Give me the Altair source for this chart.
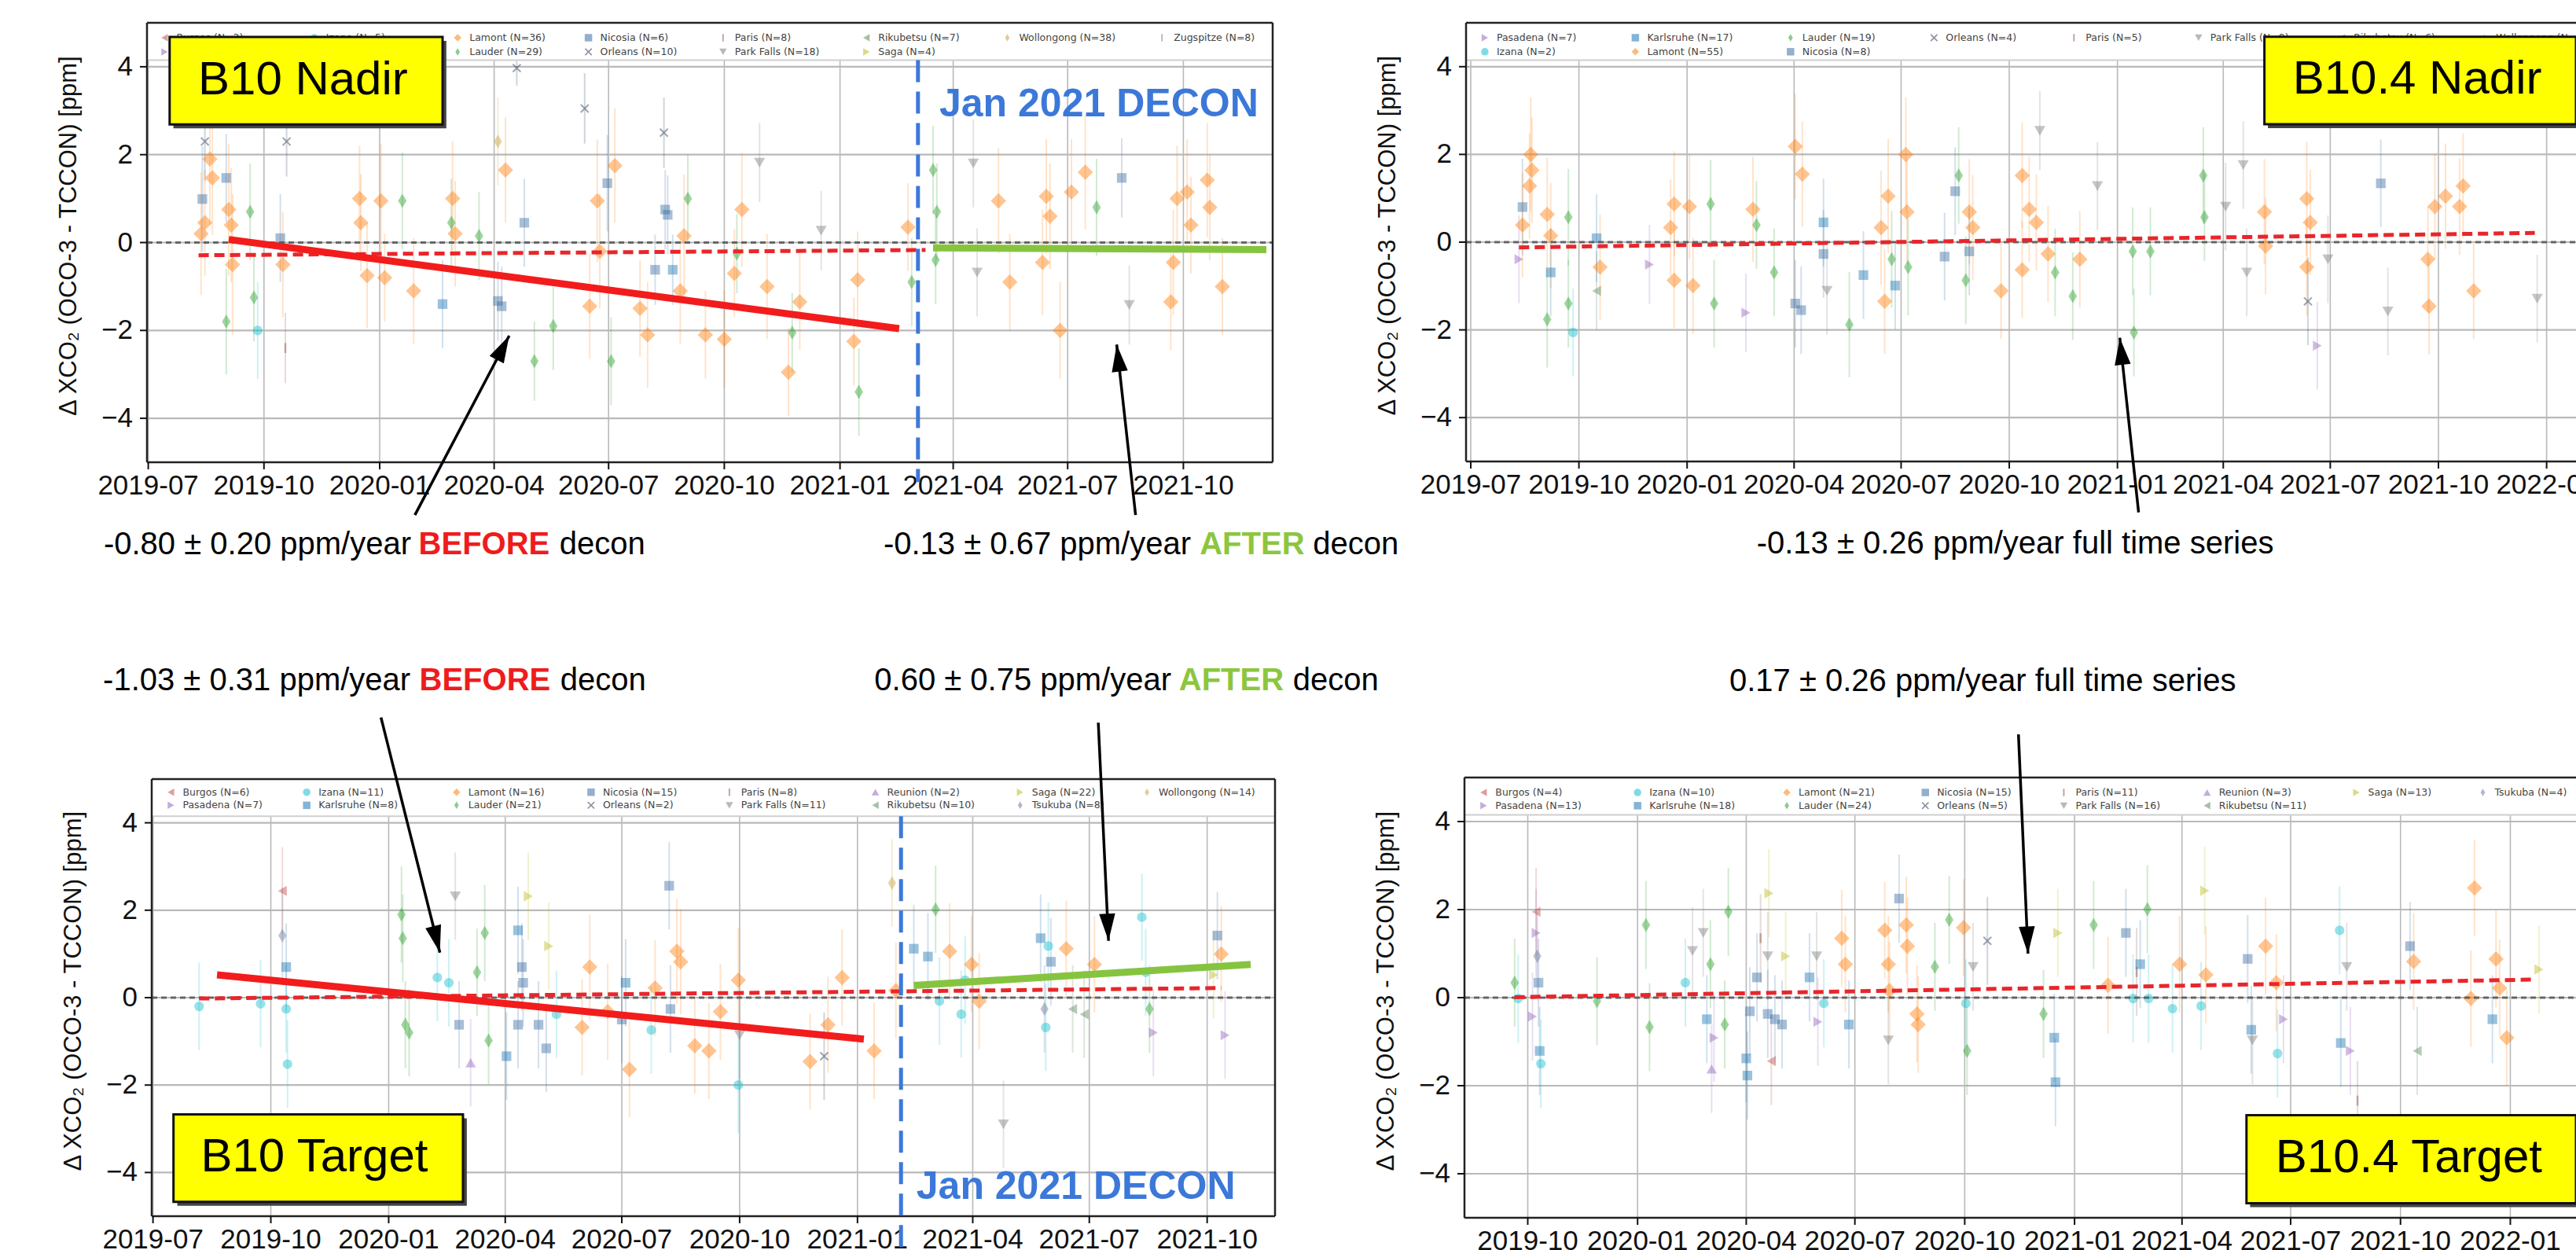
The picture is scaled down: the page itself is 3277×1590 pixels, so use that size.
import altair as alt
import pandas as pd

W, H = 3277, 1590
AX_FONT = "Liberation Sans"
LEG_FONT = "DejaVu Sans"
TXT_FONT = "Liberation Sans"
YTITLE = "\u0394 XCO\u2082 (OCO-3 - TCCON) [ppm]"

# ---------------- data ----------------
TICKS_A = ["2019-07-01", "2019-10-01", "2020-01-01", "2020-04-01", "2020-07-01",
           "2020-10-01", "2021-01-01", "2021-04-01", "2021-07-01", "2021-10-01"]
TICKS_B = TICKS_A + ["2022-01-01"]
TICKS_C = TICKS_A[1:] + ["2022-01-01"]
YTICKS = [-4, -2, 0, 2, 4]
YTICK_LABELS = ["\u22124", "\u22122", "0", "2", "4"]

# (date, delta XCO2, error, site)
P1_POINTS = [
    ("2019-08-15", 2.30, 0.9, "Orleans"), ("2019-08-13", 0.99, 1.2, "Nicosia"),
    ("2019-08-19", 1.90, 1.5, "Lamont"), ("2019-08-21", 1.47, 1.3, "Lamont"),
    ("2019-08-15", 0.45, 1.2, "Lamont"), ("2019-08-12", 0.20, 1.4, "Lamont"),
    ("2019-09-03", 0.75, 1.5, "Lamont"), ("2019-09-05", 0.40, 1.3, "Lamont"),
    ("2019-09-06", -0.50, 1.6, "Lamont"), ("2019-09-01", 1.47, 1.0, "Nicosia"),
    ("2019-09-01", -1.80, 1.2, "Lauder"), ("2019-09-20", 0.70, 1.1, "Lauder"),
    ("2019-09-23", -1.25, 1.0, "Lauder"), ("2019-09-26", -2.00, 1.1, "Izana"),
    ("2019-10-16", -0.50, 1.2, "Lamont"), ("2019-10-19", 2.30, 0.8, "Orleans"),
    ("2019-10-18", -2.40, 0.8, "Paris"), ("2019-10-14", 0.10, 1.0, "Nicosia"),
    ("2019-12-16", 1.00, 1.2, "Lamont"), ("2019-12-17", 0.45, 1.1, "Lamont"),
    ("2019-12-22", -0.75, 1.2, "Lamont"), ("2020-01-02", 0.95, 1.3, "Lamont"),
    ("2020-01-05", -0.80, 1.0, "Lamont"), ("2020-01-19", 0.95, 1.1, "Lauder"),
    ("2020-01-28", -1.10, 1.2, "Lamont"), ("2020-02-20", -1.40, 1.0, "Karlsruhe"),
    ("2020-02-28", 1.00, 1.3, "Lamont"), ("2020-03-01", 0.20, 1.2, "Lamont"),
    ("2020-02-27", 0.45, 1.0, "Lauder"), ("2020-03-20", 0.15, 1.0, "Lauder"),
    ("2020-04-04", 2.30, 1.0, "Wollongong"), ("2020-04-10", 1.65, 1.2, "Lamont"),
    ("2020-04-04", -1.33, 0.9, "Nicosia"), ("2020-04-07", -1.45, 0.9, "Nicosia"),
    ("2020-04-25", 0.45, 1.0, "Nicosia"), ("2020-04-19", 3.97, 0.4, "Orleans"),
    ("2020-05-18", -1.90, 1.0, "Lauder"), ("2020-05-03", -2.70, 0.9, "Lauder"),
    ("2020-06-12", 3.05, 0.8, "Orleans"), ("2020-06-16", -1.45, 1.2, "Lamont"),
    ("2020-06-22", 0.95, 1.4, "Lamont"), ("2020-06-24", -0.20, 1.3, "Lamont"),
    ("2020-06-30", 1.35, 1.1, "Nicosia"), ("2020-07-06", 1.75, 1.3, "Lamont"),
    ("2020-07-03", -2.70, 1.0, "Lauder"), ("2020-07-26", -1.50, 1.1, "Lamont"),
    ("2020-08-01", -2.10, 1.2, "Lamont"), ("2020-08-14", 2.50, 0.8, "Orleans"),
    ("2020-08-15", 0.75, 0.9, "Nicosia"), ("2020-08-17", 0.63, 0.9, "Nicosia"),
    ("2020-08-07", -0.62, 0.8, "Nicosia"), ("2020-08-21", -0.62, 0.8, "Karlsruhe"),
    ("2020-08-30", 0.15, 1.4, "Lamont"), ("2020-08-27", -1.10, 1.2, "Lamont"),
    ("2020-09-02", 1.00, 1.0, "Lauder"), ("2020-09-16", -2.10, 1.0, "Lamont"),
    ("2020-10-01", -2.20, 1.1, "Lamont"), ("2020-10-09", -0.70, 1.0, "Lamont"),
    ("2020-10-11", -0.25, 0.9, "Lauder"), ("2020-10-15", 0.75, 1.3, "Lamont"),
    ("2020-10-29", 1.82, 0.9, "Park Falls"), ("2020-11-04", -1.00, 1.2, "Lamont"),
    ("2020-11-21", -2.95, 1.0, "Lamont"), ("2020-11-24", -2.05, 0.9, "Lauder"),
    ("2020-11-30", -1.35, 1.1, "Lamont"), ("2020-12-17", 0.27, 0.9, "Park Falls"),
    ("2021-01-12", -2.25, 1.0, "Lamont"), ("2021-01-15", -0.85, 1.1, "Lamont"),
    ("2021-01-16", -3.40, 1.0, "Lauder"), ("2021-02-24", 0.35, 1.0, "Lamont"),
    ("2021-02-27", -0.90, 1.0, "Lauder"), ("2021-03-16", 1.65, 1.0, "Lauder"),
    ("2021-03-19", 0.70, 1.1, "Lauder"), ("2021-03-18", -0.40, 1.0, "Lauder"),
    ("2021-04-17", 1.80, 1.0, "Park Falls"), ("2021-04-20", -0.68, 1.0, "Park Falls"),
    ("2021-05-07", 0.95, 1.2, "Lamont"), ("2021-05-16", -0.90, 1.1, "Lamont"),
    ("2021-06-11", -0.45, 1.2, "Lamont"), ("2021-06-14", 1.05, 1.3, "Lamont"),
    ("2021-06-17", 0.60, 1.2, "Lamont"), ("2021-06-25", -2.00, 1.1, "Lamont"),
    ("2021-07-04", 1.15, 1.2, "Lamont"), ("2021-07-15", 1.60, 1.3, "Lamont"),
    ("2021-07-24", 0.80, 1.1, "Lauder"), ("2021-08-13", 1.47, 0.9, "Nicosia"),
    ("2021-08-19", -1.42, 0.9, "Park Falls"), ("2021-09-23", -0.45, 1.2, "Lamont"),
    ("2021-09-21", -1.35, 1.1, "Lamont"), ("2021-09-26", 1.00, 1.2, "Lamont"),
    ("2021-10-04", 1.15, 1.2, "Lamont"), ("2021-10-07", 0.40, 1.1, "Lamont"),
    ("2021-10-20", 1.42, 1.3, "Lamont"), ("2021-10-22", 0.80, 1.2, "Lamont"),
    ("2021-11-01", -1.00, 1.1, "Lamont"),
]

P2_POINTS = [
    ("2019-08-21", 2.00, 1.3, "Lamont"), ("2019-08-22", 1.64, 1.2, "Lamont"),
    ("2019-08-20", 1.28, 1.2, "Lamont"), ("2019-08-14", 0.80, 1.1, "Nicosia"),
    ("2019-08-14", 0.39, 1.2, "Lamont"), ("2019-08-11", -0.39, 1.0, "Pasadena"),
    ("2019-09-04", 0.63, 1.3, "Lamont"), ("2019-09-07", 0.15, 1.2, "Lamont"),
    ("2019-09-07", -0.69, 1.0, "Karlsruhe"), ("2019-09-22", 0.57, 1.1, "Lauder"),
    ("2019-09-22", -1.40, 1.0, "Lauder"), ("2019-09-04", -1.76, 1.1, "Lauder"),
    ("2019-09-26", -2.06, 1.0, "Izana"), ("2019-10-16", 0.09, 1.0, "Karlsruhe"),
    ("2019-10-19", -0.57, 1.2, "Lamont"), ("2019-10-16", -1.11, 0.9, "Rikubetsu"),
    ("2019-11-30", -0.51, 0.9, "Pasadena"), ("2019-12-21", 0.87, 1.2, "Lamont"),
    ("2020-01-03", 0.81, 1.2, "Lamont"), ("2019-12-18", 0.33, 1.1, "Lamont"),
    ("2019-12-21", -0.87, 1.1, "Lamont"), ("2020-01-06", -0.99, 1.1, "Lamont"),
    ("2020-01-21", 0.87, 1.0, "Lauder"), ("2020-01-24", -1.40, 1.0, "Lauder"),
    ("2020-02-20", -1.61, 0.9, "Pasadena"), ("2020-02-26", 0.75, 1.2, "Lamont"),
    ("2020-02-29", 0.39, 1.0, "Lauder"), ("2020-03-15", -0.69, 1.0, "Lauder"),
    ("2020-04-02", 2.18, 1.2, "Lamont"), ("2020-04-08", 1.55, 1.2, "Lamont"),
    ("2020-04-02", -1.40, 1.0, "Nicosia"), ("2020-04-07", -1.55, 1.0, "Nicosia"),
    ("2020-04-26", 0.45, 1.0, "Karlsruhe"), ("2020-04-26", -0.27, 1.0, "Nicosia"),
    ("2020-04-29", -1.11, 1.0, "Park Falls"), ("2020-05-18", -1.88, 1.2, "Lauder"),
    ("2020-05-30", -0.75, 1.0, "Karlsruhe"), ("2020-06-14", 0.33, 1.3, "Lamont"),
    ("2020-06-17", -1.35, 1.2, "Lamont"), ("2020-06-20", 1.05, 1.3, "Lamont"),
    ("2020-06-23", -0.39, 1.1, "Lauder"), ("2020-06-26", -0.99, 1.0, "Karlsruhe"),
    ("2020-07-05", 2.00, 1.3, "Lamont"), ("2020-07-06", 0.69, 1.2, "Lamont"),
    ("2020-07-07", -0.57, 1.1, "Lauder"), ("2020-08-07", -0.33, 1.0, "Nicosia"),
    ("2020-08-16", 1.16, 1.0, "Nicosia"), ("2020-08-19", 1.52, 1.1, "Lauder"),
    ("2020-08-25", -0.87, 1.0, "Lauder"), ("2020-08-28", 0.69, 1.2, "Lamont"),
    ("2020-08-28", -0.21, 1.0, "Nicosia"), ("2020-08-31", 0.33, 1.2, "Lamont"),
    ("2020-09-24", -1.11, 1.1, "Lamont"), ("2020-10-12", 1.52, 1.2, "Lamont"),
    ("2020-10-12", -0.63, 1.1, "Lamont"), ("2020-10-18", 0.75, 1.2, "Lamont"),
    ("2020-10-24", 0.45, 1.1, "Lamont"), ("2020-10-27", 2.54, 0.9, "Park Falls"),
    ("2020-11-03", -0.27, 1.1, "Lamont"), ("2020-11-09", -0.69, 1.0, "Lauder"),
    ("2020-11-24", -1.23, 1.0, "Lauder"), ("2020-11-30", -0.39, 1.1, "Lamont"),
    ("2020-12-15", 1.28, 1.0, "Park Falls"), ("2021-01-14", -0.21, 1.0, "Lauder"),
    ("2021-01-15", -2.06, 1.0, "Lauder"), ("2021-01-29", -0.21, 1.0, "Lauder"),
    ("2021-03-15", 1.52, 1.1, "Lauder"), ("2021-03-16", 0.57, 1.0, "Lauder"),
    ("2021-04-03", 0.81, 1.0, "Park Falls"), ("2021-04-18", 1.76, 1.0, "Park Falls"),
    ("2021-04-21", -0.69, 1.0, "Park Falls"), ("2021-05-06", 0.69, 1.2, "Lamont"),
    ("2021-05-07", -0.09, 1.1, "Lamont"), ("2021-06-11", 0.99, 1.3, "Lamont"),
    ("2021-06-14", 0.45, 1.2, "Lamont"), ("2021-06-11", -0.57, 1.1, "Lamont"),
    ("2021-06-12", -1.35, 1.0, "Orleans"), ("2021-06-20", -2.36, 1.0, "Pasadena"),
    ("2021-06-29", -0.39, 1.0, "Park Falls"), ("2021-08-13", 1.34, 1.0, "Nicosia"),
    ("2021-08-19", -1.58, 1.0, "Park Falls"), ("2021-09-22", -0.39, 1.2, "Lamont"),
    ("2021-09-23", -1.46, 1.1, "Lamont"), ("2021-09-28", 0.81, 1.2, "Lamont"),
    ("2021-10-07", 1.05, 1.2, "Lamont"), ("2021-10-22", 1.28, 1.2, "Lamont"),
    ("2021-10-19", 0.81, 1.1, "Lamont"), ("2021-10-31", -1.11, 1.1, "Lamont"),
    ("2021-12-24", -1.29, 1.0, "Park Falls"),
]

P3_POINTS = [
    ("2019-08-06", -0.20, 1.0, "Izana"), ("2019-09-23", -0.14, 1.0, "Izana"),
    ("2019-10-10", 2.44, 1.0, "Burgos"), ("2019-10-10", 1.42, 1.1, "Tsukuba"),
    ("2019-10-13", 0.70, 1.0, "Karlsruhe"), ("2019-10-13", -0.26, 1.0, "Izana"),
    ("2019-10-14", -1.52, 1.0, "Izana"), ("2020-01-11", 1.90, 1.1, "Lauder"),
    ("2020-01-12", 1.36, 1.0, "Lauder"), ("2020-01-14", -0.62, 1.0, "Lauder"),
    ("2020-01-17", -0.80, 1.0, "Lauder"), ("2020-02-08", 0.46, 1.0, "Izana"),
    ("2020-02-22", 2.32, 1.0, "Park Falls"), ("2020-02-17", 0.34, 1.0, "Izana"),
    ("2020-02-25", -0.62, 1.0, "Nicosia"), ("2020-03-05", -1.49, 1.0, "Reunion"),
    ("2020-03-10", 0.58, 1.0, "Lauder"), ("2020-03-16", 1.48, 1.1, "Lauder"),
    ("2020-03-19", -0.98, 1.0, "Lauder"), ("2020-04-02", -1.34, 1.0, "Karlsruhe"),
    ("2020-04-11", 1.54, 1.0, "Karlsruhe"), ("2020-04-14", 0.70, 1.0, "Nicosia"),
    ("2020-04-15", 0.34, 1.0, "Nicosia"), ("2020-04-11", -0.62, 1.0, "Nicosia"),
    ("2020-04-19", 2.32, 1.0, "Saga"), ("2020-04-27", -0.62, 1.0, "Nicosia"),
    ("2020-05-03", -1.16, 1.0, "Nicosia"), ("2020-05-05", 1.18, 1.0, "Saga"),
    ("2020-05-11", -0.38, 1.0, "Izana"), ("2020-05-31", -0.68, 1.1, "Lamont"),
    ("2020-06-06", 0.70, 1.2, "Lamont"), ("2020-06-20", -0.32, 1.1, "Lamont"),
    ("2020-07-01", -0.50, 1.0, "Nicosia"), ("2020-07-07", -1.64, 1.1, "Lamont"),
    ("2020-07-04", 0.34, 1.0, "Karlsruhe"), ("2020-07-24", -0.74, 1.0, "Izana"),
    ("2020-07-27", 0.22, 1.1, "Lamont"), ("2020-08-07", 2.56, 1.0, "Nicosia"),
    ("2020-08-13", 1.06, 1.2, "Lamont"), ("2020-08-16", 0.82, 1.2, "Lamont"),
    ("2020-08-08", -0.26, 1.0, "Nicosia"), ("2020-08-27", -1.10, 1.1, "Lamont"),
    ("2020-09-07", -1.22, 1.1, "Lamont"), ("2020-09-16", -0.32, 1.1, "Lamont"),
    ("2020-09-30", 0.40, 1.2, "Lamont"), ("2020-09-30", -2.00, 1.1, "Izana"),
    ("2020-10-01", -0.86, 1.0, "Park Falls"), ("2020-11-25", -1.46, 1.1, "Lamont"),
    ("2020-12-06", -1.34, 1.0, "Orleans"), ("2020-12-09", -0.62, 1.1, "Lamont"),
    ("2020-12-20", 0.46, 1.1, "Lamont"), ("2021-01-14", -1.22, 1.1, "Lamont"),
    ("2021-01-28", 2.62, 1.0, "Wollongong"), ("2021-01-31", 0.16, 1.1, "Lamont"),
    ("2021-02-14", 1.12, 1.0, "Karlsruhe"), ("2021-02-25", 0.94, 1.0, "Karlsruhe"),
    ("2021-03-03", 2.02, 1.0, "Lauder"), ("2021-03-06", -0.08, 1.0, "Izana"),
    ("2021-03-14", 1.06, 1.1, "Lamont"), ("2021-03-23", -0.38, 1.0, "Izana"),
    ("2021-03-26", 0.40, 1.0, "Izana"), ("2021-03-31", 0.76, 1.1, "Lamont"),
    ("2021-04-06", -0.08, 1.1, "Lamont"), ("2021-04-25", -2.90, 1.0, "Park Falls"),
    ("2021-05-24", 1.36, 1.0, "Karlsruhe"), ("2021-05-30", 1.18, 1.0, "Izana"),
    ("2021-05-27", -0.26, 1.0, "Tsukuba"), ("2021-05-28", -0.68, 1.0, "Izana"),
    ("2021-06-01", 0.82, 1.0, "Nicosia"), ("2021-06-13", 1.12, 1.1, "Lamont"),
    ("2021-06-18", -0.26, 1.0, "Rikubetsu"), ("2021-06-27", -0.38, 1.0, "Rikubetsu"),
    ("2021-07-05", 0.76, 1.1, "Lamont"), ("2021-08-11", 1.84, 1.0, "Izana"),
    ("2021-08-14", 0.58, 1.0, "Izana"), ("2021-08-17", -0.26, 1.0, "Lauder"),
    ("2021-08-20", -0.80, 1.0, "Pasadena"), ("2021-10-06", 0.52, 1.0, "Saga"),
    ("2021-10-09", 1.42, 1.0, "Nicosia"), ("2021-10-12", 1.00, 1.1, "Lamont"),
    ("2021-10-15", -0.86, 1.0, "Pasadena"),
]

P4_POINTS = [
    ("2019-09-20", 0.34, 1.0, "Lauder"), ("2019-09-23", -0.02, 1.0, "Izana"),
    ("2019-10-05", -0.43, 1.0, "Pasadena"), ("2019-10-08", 1.95, 1.0, "Burgos"),
    ("2019-10-08", 1.47, 1.0, "Pasadena"), ("2019-10-09", 0.94, 1.0, "Tsukuba"),
    ("2019-10-10", 0.34, 1.0, "Nicosia"), ("2019-10-11", -1.21, 1.0, "Karlsruhe"),
    ("2019-10-12", -1.50, 1.0, "Izana"), ("2019-11-28", -0.08, 1.0, "Lauder"),
    ("2020-01-08", 1.65, 1.0, "Lauder"), ("2020-01-11", -0.67, 1.0, "Lauder"),
    ("2020-02-10", 0.34, 1.0, "Izana"), ("2020-02-16", 1.06, 1.0, "Park Falls"),
    ("2020-02-25", 1.47, 1.0, "Park Falls"), ("2020-02-28", -0.49, 1.0, "Karlsruhe"),
    ("2020-03-02", 0.76, 1.0, "Lauder"), ("2020-03-05", -0.91, 1.0, "Pasadena"),
    ("2020-03-03", -1.62, 1.0, "Reunion"), ("2020-03-17", 1.95, 1.0, "Lauder"),
    ("2020-03-14", -0.61, 1.0, "Lauder"), ("2020-04-01", -1.38, 1.0, "Karlsruhe"),
    ("2020-04-02", -1.77, 1.0, "Karlsruhe"), ("2020-04-04", -0.31, 1.0, "Nicosia"),
    ("2020-04-10", 0.46, 1.0, "Nicosia"), ("2020-04-13", 1.35, 1.0, "Paris"),
    ("2020-04-19", 0.94, 1.0, "Park Falls"), ("2020-04-19", -0.37, 1.0, "Nicosia"),
    ("2020-04-22", -1.44, 1.0, "Burgos"), ("2020-04-25", -0.49, 1.0, "Nicosia"),
    ("2020-05-01", -0.61, 1.0, "Nicosia"), ("2020-04-20", 2.37, 1.0, "Saga"),
    ("2020-05-04", 0.94, 1.0, "Saga"), ("2020-05-24", 0.46, 1.0, "Karlsruhe"),
    ("2020-05-30", 0.94, 1.0, "Park Falls"), ("2020-05-31", -0.55, 1.0, "Pasadena"),
    ("2020-06-05", -0.13, 1.0, "Izana"), ("2020-06-20", 1.35, 1.1, "Lamont"),
    ("2020-06-23", 0.76, 1.1, "Lamont"), ("2020-06-26", -0.61, 1.0, "Karlsruhe"),
    ("2020-07-26", 1.53, 1.1, "Lamont"), ("2020-07-29", 0.76, 1.1, "Lamont"),
    ("2020-07-30", 0.16, 1.1, "Lamont"), ("2020-07-29", -0.97, 1.0, "Park Falls"),
    ("2020-08-07", 2.25, 1.0, "Nicosia"), ("2020-08-13", 1.65, 1.1, "Lamont"),
    ("2020-08-14", 1.17, 1.1, "Lamont"), ("2020-08-22", -0.37, 1.1, "Lamont"),
    ("2020-08-23", -0.61, 1.1, "Lamont"), ("2020-09-06", 0.70, 1.0, "Lauder"),
    ("2020-09-18", 1.77, 1.0, "Lauder"), ("2020-09-30", 1.59, 1.1, "Lamont"),
    ("2020-10-02", -0.13, 1.0, "Izana"), ("2020-10-03", -1.21, 1.0, "Lauder"),
    ("2020-10-08", 0.70, 1.0, "Park Falls"), ("2020-10-20", 1.29, 1.0, "Orleans"),
    ("2020-12-06", -0.37, 1.0, "Lauder"), ("2020-12-15", -0.91, 1.0, "Karlsruhe"),
    ("2020-12-16", -1.92, 1.0, "Karlsruhe"), ("2020-12-18", 1.47, 1.0, "Saga"),
    ("2021-01-17", 1.65, 1.0, "Lauder"), ("2021-01-29", 0.28, 1.1, "Lamont"),
    ("2021-02-13", 1.47, 1.0, "Nicosia"), ("2021-02-19", -0.02, 1.0, "Izana"),
    ("2021-02-22", 0.58, 1.0, "Paris"), ("2021-02-25", 0.76, 1.0, "Karlsruhe"),
    ("2021-03-03", 2.01, 1.0, "Lauder"), ("2021-03-04", -0.02, 1.0, "Izana"),
    ("2021-03-24", -0.25, 1.0, "Izana"), ("2021-03-30", 0.76, 1.1, "Lamont"),
    ("2021-04-17", -0.19, 1.0, "Izana"), ("2021-04-20", 2.43, 1.0, "Saga"),
    ("2021-04-21", 0.52, 1.1, "Lamont"), ("2021-05-26", 0.88, 1.0, "Nicosia"),
    ("2021-05-29", -0.73, 1.0, "Karlsruhe"), ("2021-05-30", -0.97, 1.0, "Park Falls"),
    ("2021-06-10", 1.17, 1.1, "Lamont"), ("2021-06-19", 0.34, 1.1, "Lamont"),
    ("2021-06-20", -1.27, 1.0, "Izana"), ("2021-06-25", -0.49, 1.0, "Pasadena"),
    ("2021-08-11", 1.53, 1.0, "Izana"), ("2021-08-12", -1.03, 1.0, "Karlsruhe"),
    ("2021-08-17", 0.70, 1.0, "Park Falls"), ("2021-08-20", -1.21, 1.0, "Pasadena"),
    ("2021-08-26", -2.34, 0.9, "Paris"), ("2021-10-09", 1.17, 1.0, "Nicosia"),
    ("2021-10-12", 0.82, 1.1, "Lamont"), ("2021-10-15", -1.21, 1.0, "Rikubetsu"),
    ("2021-11-29", -0.02, 1.1, "Lamont"), ("2021-12-02", 2.49, 1.1, "Lamont"),
    ("2021-12-17", -0.49, 1.0, "Karlsruhe"), ("2021-12-20", 0.88, 1.1, "Lamont"),
    ("2021-12-23", 0.22, 1.1, "Lamont"), ("2021-12-29", -0.91, 1.1, "Lamont"),
    ("2022-01-25", 0.64, 1.0, "Saga"),
]

# legend entries (site, N), in matplotlib order
P1_LEGEND = [("Burgos", 3), ("Pasadena", 9), ("Izana", 5), ("Karlsruhe", 12), ("Lamont", 36),
             ("Lauder", 29), ("Nicosia", 6), ("Orleans", 10), ("Paris", 8), ("Park Falls", 18),
             ("Rikubetsu", 7), ("Saga", 4), ("Wollongong", 38), ("Zugspitze", 8)]
P2_LEGEND = [("Pasadena", 7), ("Izana", 2), ("Karlsruhe", 17), ("Lamont", 55), ("Lauder", 19),
             ("Nicosia", 8), ("Orleans", 4), ("Paris", 5), ("Park Falls", 9), ("Rikubetsu", 6),
             ("Wollongong", 12)]
P3_LEGEND = [("Burgos", 6), ("Pasadena", 7), ("Izana", 11), ("Karlsruhe", 8), ("Lamont", 16),
             ("Lauder", 21), ("Nicosia", 15), ("Orleans", 2), ("Paris", 8), ("Park Falls", 11),
             ("Reunion", 2), ("Rikubetsu", 10), ("Saga", 22), ("Tsukuba", 8), ("Wollongong", 14)]
P4_LEGEND = [("Burgos", 4), ("Pasadena", 13), ("Izana", 10), ("Karlsruhe", 18), ("Lamont", 21),
             ("Lauder", 24), ("Nicosia", 15), ("Orleans", 5), ("Paris", 11), ("Park Falls", 16),
             ("Reunion", 3), ("Rikubetsu", 11), ("Saga", 13), ("Tsukuba", 4)]

# fitted trend lines: (kind, start date, start value, end date, end value)
P1_FITS = [("trend", "2019-08-10", -0.29, "2021-03-10", -0.17),
           ("before", "2019-09-03", 0.07, "2021-02-17", -1.96),
           ("after", "2021-03-16", -0.12, "2021-12-06", -0.16)]
P2_FITS = [("trend", "2019-08-11", -0.12, "2021-12-22", 0.21)]
P3_FITS = [("trend", "2019-08-06", -0.02, "2021-10-12", 0.22),
           ("before", "2019-08-20", 0.52, "2021-01-06", -0.95),
           ("after", "2021-02-14", 0.28, "2021-11-04", 0.76)]
P4_FITS = [("trend", "2019-09-20", 0.01, "2022-01-21", 0.41)]

# ---------------- styles ----------------
THIN_D = "M0,-1L0.6,0L0,1L-0.6,0Z"
X_MARK = ("M-1,-0.75L-0.75,-1L0,-0.25L0.75,-1L1,-0.75L0.25,0L1,0.75L0.75,1L0,0.25"
          "L-0.75,1L-1,0.75L-0.25,0Z")
VBAR = "M-0.2,-1L0.2,-1L0.2,1L-0.2,1Z"
ARROW_HEAD = "M0,0L0.34,1.15L-0.34,1.15Z"

SITE_STYLE = {  # colour, shape, size
    "Burgos": ("#c0504d", "triangle-left", 170),
    "Pasadena": ("#9467bd", "triangle-right", 170),
    "Izana": ("#17becf", "circle", 150),
    "Karlsruhe": ("#1f77b4", "square", 150),
    "Lamont": ("#ff7f0e", "diamond", 380),
    "Lauder": ("#2ca02c", THIN_D, 320),
    "Nicosia": ("#3b6ea5", "square", 150),
    "Orleans": ("#2b3a55", X_MARK, 130),
    "Paris": ("#8c564b", VBAR, 160),
    "Park Falls": ("#7f7f7f", "triangle-down", 200),
    "Reunion": ("#9467bd", "triangle-up", 180),
    "Rikubetsu": ("#5f8a5f", "triangle-left", 170),
    "Saga": ("#bcbd22", "triangle-right", 180),
    "Tsukuba": ("#6c7a9c", THIN_D, 300),
    "Wollongong": ("#c8a23a", THIN_D, 300),
    "Zugspitze": ("#7f7f7f", VBAR, 160),
}
FIT_STYLE = {
    "trend": dict(color="#e8262b", strokeWidth=5, strokeDash=[13, 7]),
    "before": dict(color="#f21c1c", strokeWidth=9, strokeCap="butt"),
    "after": dict(color="#86c440", strokeWidth=9, strokeCap="butt"),
}
BLUE = "#3c78d8"
INK = "#111111"

# ---------------- panel layout / annotations ----------------
PANELS = [
    dict(points=P1_POINTS, legend=P1_LEGEND, fits=P1_FITS, ticks=TICKS_A,
         xdom=("2019-06-30", "2021-12-11"), xr=(187, 1619), yr=(588, 29), right=True,
         leg_cols=["2019-07-14", "2019-11-10", "2020-03-03", "2020-06-15", "2020-09-30",
                   "2021-01-22", "2021-05-14", "2021-09-14"], leg_rows=(4.66, 4.34),
         box=("B10 Nadir", "2019-07-18", "2020-02-20", 4.68, 2.69, "2019-11-01", 3.70),
         decon=("2021-03-04", 4.15, -5.45, "2021-03-21", 3.14),
         arrows=[("2020-01-29", -6.2, "2020-04-13", -2.12, 27.6),
                 ("2021-08-24", -6.2, "2021-08-09", -2.32, 353.4)],
         texts=[("-0.80 \u00b1 0.20 ppm/year", "2020-01-26", -6.88, "right"),
                ("BEFORE", "2020-02-01", -6.88, "before"),
                ("decon", "2020-05-23", -6.88, "left"),
                ("-0.13 \u00b1 0.67 ppm/year", "2021-10-07", -6.88, "right"),
                ("AFTER", "2021-10-14", -6.88, "after"),
                ("decon", "2022-01-12", -6.88, "left")]),
    dict(points=P2_POINTS, legend=P2_LEGEND, fits=P2_FITS, ticks=TICKS_B,
         xdom=("2019-06-27", "2022-01-26"), xr=(1865, 3277), yr=(587, 29), right=False,
         leg_cols=["2019-07-13", "2019-11-18", "2020-03-29", "2020-07-29", "2020-11-25",
                   "2021-03-11", "2021-07-11", "2021-11-09"], leg_rows=(4.66, 4.34),
         box=("B10.4 Nadir", "2021-05-06", "2022-01-26", 4.68, 2.69, "2021-09-13", 3.71),
         decon=None,
         arrows=[("2021-01-19", -6.16, "2021-01-03", -2.18, 353.8)],
         texts=[("-0.13 \u00b1 0.26 ppm/year full time series", "2020-10-06", -6.89, "center")]),
    dict(points=P3_POINTS, legend=P3_LEGEND, fits=P3_FITS, ticks=TICKS_A,
         xdom=("2019-06-30", "2021-11-23"), xr=(193, 1622), yr=(1547, 991), right=True,
         leg_cols=["2019-07-15", "2019-10-29", "2020-02-23", "2020-06-07", "2020-09-23",
                   "2021-01-15", "2021-05-08", "2021-08-15"], leg_rows=(4.70, 4.40),
         box=("B10 Target", "2019-07-17", "2020-02-28", -2.67, -4.67, "2019-11-04", -3.66),
         decon=("2021-02-04", 4.15, -6.2, "2021-02-16", -4.34),
         arrows=[("2019-12-26", 6.41, "2020-02-10", 1.03, 165.7),
                 ("2021-07-08", 6.29, "2021-07-16", 1.30, 177.1)],
         texts=[("-1.03 \u00b1 0.31 ppm/year", "2020-01-18", 7.24, "right"),
                ("BEFORE", "2020-01-25", 7.24, "before"),
                ("decon", "2020-05-14", 7.24, "left"),
                ("0.60 \u00b1 0.75 ppm/year", "2021-09-03", 7.24, "right"),
                ("AFTER", "2021-09-09", 7.24, "after"),
                ("decon", "2021-12-07", 7.24, "left")]),
    dict(points=P4_POINTS, legend=P4_LEGEND, fits=P4_FITS, ticks=TICKS_C,
         xdom=("2019-08-09", "2022-02-25"), xr=(1863, 3277), yr=(1549, 989), right=False,
         leg_cols=["2019-08-25", "2020-01-01", "2020-05-05", "2020-08-29", "2020-12-23",
                   "2021-04-22", "2021-08-25", "2021-12-09"], leg_rows=(4.66, 4.36),
         box=("B10.4 Target", "2021-05-25", "2022-02-25", -2.67, -4.67, "2021-10-08", -3.64),
         decon=None,
         arrows=[("2020-11-15", 5.98, "2020-11-23", 1.00, 177.5)],
         texts=[("0.17 \u00b1 0.26 ppm/year full time series", "2020-10-16", 7.18, "center")]),
]


def dt(s):
    y, m, d = (int(p) for p in s.split("-"))
    return alt.DateTime(year=y, month=m, date=d, utc=True)


def shift(s, days):
    return (pd.Timestamp(s) + pd.Timedelta(days=days)).strftime("%Y-%m-%dT%H:%M:%SZ")


def legend_layout(entries, ncol=8):
    nrows, nlarge = divmod(len(entries), ncol)
    out, i = [], 0
    for c in range(ncol):
        size = nrows + 1 if c < nlarge else nrows
        for r in range(size):
            out.append((entries[i], c, r))
            i += 1
    return out


def build_panel(cfg):
    xs = alt.Scale(type="utc", domain=[dt(cfg["xdom"][0]), dt(cfg["xdom"][1])],
                   range=list(cfg["xr"]), nice=False)
    ys = alt.Scale(type="linear", domain=[-5, 5], range=list(cfg["yr"]), nice=False, zero=False)

    def X(f):
        return alt.X(f, scale=xs, axis=None, title=None)

    def Y(f):
        return alt.Y(f, scale=ys, axis=None, title=None)

    x0, x1 = cfg["xdom"]
    px_per_unit = (cfg["yr"][0] - cfg["yr"][1]) / 10.0
    n_days = (pd.Timestamp(x1) - pd.Timestamp(x0)).days
    px_per_day = (cfg["xr"][1] - cfg["xr"][0]) / n_days
    tick_len = 9.0
    layers = []

    # grid
    vg = pd.DataFrame({"d": cfg["ticks"], "lo": -5.0, "hi": 4.15})
    layers.append(alt.Chart(vg).mark_rule(color="#b9b9b9", strokeWidth=1.6).encode(
        x=X("d:T"), y=Y("lo:Q"), y2="hi:Q"))
    hg = pd.DataFrame({"v": YTICKS, "a": x0, "b": x1})
    layers.append(alt.Chart(hg).mark_rule(color="#b9b9b9", strokeWidth=2.2).encode(
        y=Y("v:Q"), x=X("a:T"), x2="b:T"))

    # points with error bars
    pts = pd.DataFrame(cfg["points"], columns=["date", "v", "err", "site"])
    pts["lo"] = pts["v"] - pts["err"]
    pts["hi"] = pts["v"] + pts["err"]
    pts["col"] = pts["site"].map(lambda s: SITE_STYLE[s][0])
    pts["shp"] = pts["site"].map(lambda s: SITE_STYLE[s][1])
    pts["sz"] = pts["site"].map(lambda s: SITE_STYLE[s][2])
    layers.append(alt.Chart(pts).mark_rule(strokeWidth=2, opacity=0.22).encode(
        x=X("date:T"), y=Y("lo:Q"), y2="hi:Q", color=alt.Color("col:N", scale=None)))
    layers.append(alt.Chart(pts).mark_point(filled=True, opacity=0.45, strokeWidth=0).encode(
        x=X("date:T"), y=Y("v:Q"), color=alt.Color("col:N", scale=None),
        shape=alt.Shape("shp:N", scale=None), size=alt.Size("sz:Q", scale=None)))

    # zero line
    zl = pd.DataFrame({"a": [x0], "b": [x1], "v": [0.0]})
    layers.append(alt.Chart(zl).mark_rule(color="#555555", strokeWidth=3, strokeDash=[7, 5],
                                          opacity=0.85).encode(
        x=X("a:T"), x2="b:T", y=Y("v:Q")))

    # fits
    for kind, d1, v1, d2, v2 in cfg["fits"]:
        fd = pd.DataFrame({"d": [d1, d2], "v": [v1, v2]})
        layers.append(alt.Chart(fd).mark_line(**FIT_STYLE[kind]).encode(
            x=X("d:T"), y=Y("v:Q")))

    # legend box background
    lb = pd.DataFrame({"a": [x0], "b": [x1], "t": [4.15], "u": [5.0]})
    layers.append(alt.Chart(lb).mark_rect(color="white").encode(
        x=X("a:T"), x2="b:T", y=Y("t:Q"), y2="u:Q"))
    layers.append(alt.Chart(lb).mark_rule(color="#cfcfcf", strokeWidth=2).encode(
        x=X("a:T"), x2="b:T", y=Y("t:Q")))

    # legend entries
    rows = []
    for (site, n), c, r in legend_layout(cfg["legend"]):
        col, shp, _ = SITE_STYLE[site]
        rows.append({"d": cfg["leg_cols"][c], "v": cfg["leg_rows"][r],
                     "label": f"{site} (N={n})", "col": col, "shp": shp})
    lg = pd.DataFrame(rows)
    layers.append(alt.Chart(lg).mark_point(filled=True, opacity=0.55, size=90, strokeWidth=0).encode(
        x=X("d:T"), y=Y("v:Q"), color=alt.Color("col:N", scale=None),
        shape=alt.Shape("shp:N", scale=None)))
    layers.append(alt.Chart(lg).mark_text(align="left", baseline="middle", dx=15, font=LEG_FONT,
                                          fontSize=12.5, color="#444").encode(
        x=X("d:T"), y=Y("v:Q"), text="label:N"))

    # frame (spines)
    fh = pd.DataFrame({"a": x0, "b": x1, "v": [-5.0, 5.0]})
    layers.append(alt.Chart(fh).mark_rule(color="#222", strokeWidth=2.5).encode(
        x=X("a:T"), x2="b:T", y=Y("v:Q")))
    fv = pd.DataFrame({"d": [x0, x1] if cfg["right"] else [x0], "lo": -5.0, "hi": 5.0})
    layers.append(alt.Chart(fv).mark_rule(color="#222", strokeWidth=2.5).encode(
        x=X("d:T"), y=Y("lo:Q"), y2="hi:Q"))

    # x axis: ticks and labels at the quarterly tick dates
    xt = pd.DataFrame({"d": cfg["ticks"], "lab": [t[:7] for t in cfg["ticks"]],
                       "a": -5.0, "b": -5.0 - tick_len / px_per_unit})
    layers.append(alt.Chart(xt).mark_rule(color=INK, strokeWidth=2).encode(
        x=X("d:T"), y=Y("a:Q"), y2="b:Q"))
    layers.append(alt.Chart(xt).mark_text(font=AX_FONT, fontSize=35, color=INK, align="center",
                                          baseline="top", dy=tick_len + 4).encode(
        x=X("d:T"), y=Y("a:Q"), text="lab:N"))

    # y axis: ticks, labels and title
    yt = pd.DataFrame({"v": YTICKS, "lab": YTICK_LABELS, "a": x0,
                       "b": shift(x0, -tick_len / px_per_day)})
    layers.append(alt.Chart(yt).mark_rule(color=INK, strokeWidth=2).encode(
        y=Y("v:Q"), x=X("a:T"), x2="b:T"))
    layers.append(alt.Chart(yt).mark_text(font=AX_FONT, fontSize=35, color=INK, align="right",
                                          baseline="middle", dx=-(tick_len + 9)).encode(
        y=Y("v:Q"), x=X("a:T"), text="lab:N"))
    ytd = pd.DataFrame({"a": [x0], "v": [0.15], "t": [YTITLE]})
    layers.append(alt.Chart(ytd).mark_text(font=AX_FONT, fontSize=31, color=INK, align="center",
                                           baseline="middle", angle=270, dy=-99).encode(
        y=Y("v:Q"), x=X("a:T"), text="t:N"))

    # yellow label box
    label, bx1, bx2, by1, by2, tx, ty = cfg["box"]
    sh = pd.DataFrame({"a": [shift(bx1, 3)], "b": [shift(bx2, 3)],
                       "t": [by1 - 0.09], "u": [by2 - 0.09]})
    layers.append(alt.Chart(sh).mark_rect(color="#444444").encode(
        x=X("a:T"), x2="b:T", y=Y("t:Q"), y2="u:Q"))
    bxd = pd.DataFrame({"a": [bx1], "b": [bx2], "t": [by1], "u": [by2]})
    layers.append(alt.Chart(bxd).mark_rect(fill="#ffff00", stroke="#111", strokeWidth=3).encode(
        x=X("a:T"), x2="b:T", y=Y("t:Q"), y2="u:Q"))
    btd = pd.DataFrame({"d": [tx], "v": [ty], "t": [label]})
    layers.append(alt.Chart(btd).mark_text(font=TXT_FONT, fontSize=60, color="#000",
                                           align="center", baseline="middle").encode(
        x=X("d:T"), y=Y("v:Q"), text="t:N"))

    # decon marker
    if cfg["decon"]:
        dd, top, bot, dtx, dty = cfg["decon"]
        dl = pd.DataFrame({"d": [dd], "t": [top], "b": [bot]})
        layers.append(alt.Chart(dl).mark_rule(color=BLUE, strokeWidth=5, strokeDash=[28, 12]).encode(
            x=X("d:T"), y=Y("t:Q"), y2="b:Q"))
        dtd = pd.DataFrame({"d": [dtx], "v": [dty], "t": ["Jan 2021 DECON"]})
        layers.append(alt.Chart(dtd).mark_text(font=TXT_FONT, fontSize=50, fontWeight="bold",
                                               color=BLUE, align="left", baseline="middle").encode(
            x=X("d:T"), y=Y("v:Q"), text="t:N"))

    # arrows
    ar = pd.DataFrame(cfg["arrows"], columns=["td", "tv", "hd", "hv", "ang"])
    layers.append(alt.Chart(ar).mark_rule(color="#000", strokeWidth=3.5).encode(
        x=X("td:T"), y=Y("tv:Q"), x2="hd:T", y2="hv:Q"))
    layers.append(alt.Chart(ar).mark_point(shape=ARROW_HEAD, filled=True, color="#000",
                                           opacity=1, size=3600, strokeWidth=0).encode(
        x=X("hd:T"), y=Y("hv:Q"), angle=alt.Angle("ang:Q", scale=None)))

    # annotation text
    tx_df = pd.DataFrame(cfg["texts"], columns=["t", "d", "v", "kind"])
    for kind, align, weight, color in [("right", "right", "normal", "#000"),
                                       ("left", "left", "normal", "#000"),
                                       ("center", "center", "normal", "#000"),
                                       ("before", "left", "bold", "#ee1c1c"),
                                       ("after", "left", "bold", "#8cc63f")]:
        sub = tx_df[tx_df["kind"] == kind]
        if len(sub):
            layers.append(alt.Chart(sub).mark_text(font=TXT_FONT, fontSize=40, fontWeight=weight,
                                                   color=color, align=align,
                                                   baseline="middle").encode(
                x=X("d:T"), y=Y("v:Q"), text="t:N"))

    return alt.layer(*layers)


chart = alt.layer(*[build_panel(c) for c in PANELS]).resolve_scale(
    x="independent", y="independent"
).properties(
    width=W, height=H, padding=0, background="white",
    autosize=alt.AutoSizeParams(type="none"),
).configure_view(stroke=None)

chart.save("out.html", embed_options={"renderer": "svg", "actions": False})
